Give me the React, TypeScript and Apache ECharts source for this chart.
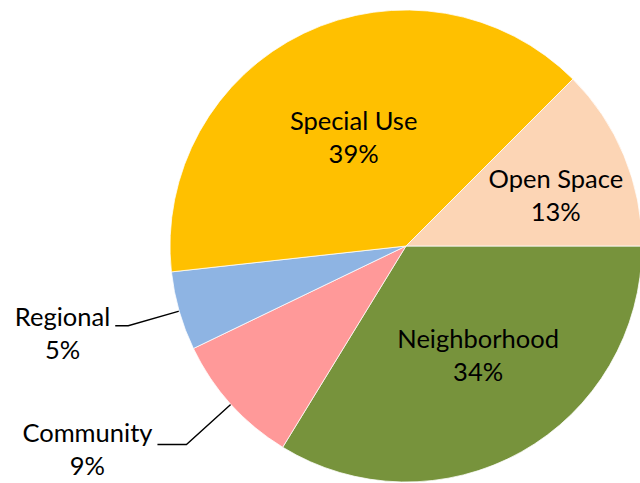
import React, { useEffect, useRef } from "react";
import * as echarts from "echarts";

const categories = ["Neighborhood", "Community", "Regional", "Special Use", "Open Space"];
const values = [33.75, 9.1, 5.4, 39.25, 12.5];
const colors = ["#77933C", "#FF9999", "#8EB4E3", "#FFC000", "#FCD5B5"];
const insideLabels = [true, false, false, true, true];

export default function App() {
  const ref = useRef<HTMLDivElement>(null);
  useEffect(() => {
    if (!ref.current) return;
    const chart = echarts.init(ref.current, null, { renderer: "svg" });
    const font = "Lato, 'Open Sans', sans-serif";
    const rich = {
      n: { fontSize: 25.5, lineHeight: 33, align: "center", color: "#000", fontFamily: font },
      p: { fontSize: 25.5, lineHeight: 33, align: "center", color: "#000", fontFamily: font },
    };
    const insidePad: Record<string, number[]> = {
      Neighborhood: [6, 0, 0, 26],
      "Special Use": [0, 0, 0, 0],
      "Open Space": [0, 0, 10, 76],
    };
    const outsideLine: Record<string, { length: number; length2: number; pad: number[] }> = {
      Regional: { length: 53, length2: 13, pad: [14, 0, 0, 0] },
      Community: { length: 60, length2: 29, pad: [8, 0, 0, 0] },
    };
    const data = categories.map((name, i) => {
      const item: any = { name, value: values[i], itemStyle: { color: colors[i] } };
      if (insideLabels[i]) {
        item.label = { position: "inside", padding: insidePad[name] };
        item.labelLine = { show: false };
      } else {
        const o = outsideLine[name];
        item.label = { position: "outside", padding: o.pad };
        item.labelLine = { show: true, length: o.length, length2: o.length2 };
      }
      return item;
    });
    chart.setOption({
      animation: false,
      backgroundColor: "#fff",
      series: [
        {
          type: "pie",
          center: [406, 246],
          radius: 236,
          startAngle: 0,
          clockwise: true,
          percentPrecision: 0,
          avoidLabelOverlap: false,
          itemStyle: { borderColor: "#fff", borderWidth: 0.75 },
          label: {
            formatter: "{n|{b}}\n{p|{d}%}",
            rich,
            distanceToLabelLine: 5,
          },
          labelLine: {
            lineStyle: { color: "#000", width: 1.4 },
            smooth: false,
          },
          emphasis: { disabled: true },
          data,
        },
      ],
    });
    return () => chart.dispose();
  }, []);
  return (
    <div
      ref={ref}
      style={{ position: "absolute", left: 0, top: 0, width: 640, height: 483 }}
    />
  );
}
